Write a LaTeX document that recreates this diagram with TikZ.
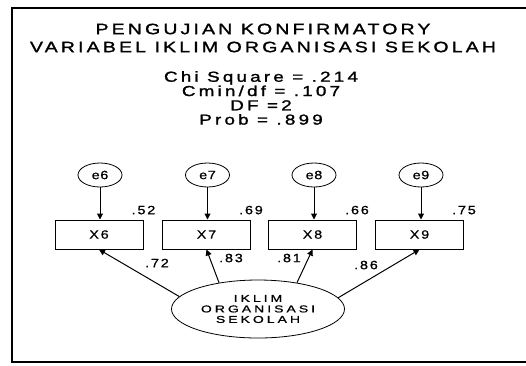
\documentclass[tikz,border=0pt]{standalone}
\usepackage{fontspec}
\setmainfont{Liberation Sans}
\usetikzlibrary{arrows.meta,shapes.geometric,positioning}

\begin{document}
\begin{tikzpicture}[x=1pt, y=-1pt,
        obs/.style={rectangle, draw, line width=1pt, minimum width=88pt, minimum height=29pt, inner sep=0pt,
                    font=\fontsize{12}{13}\selectfont\addfontfeatures{FakeStretch=1.2,LetterSpace=15,FakeBold=0.5}},
        err/.style={ellipse, draw, line width=0.8pt, minimum width=44pt, minimum height=24pt, inner sep=0pt,
                    font=\fontsize{12}{13}\selectfont\addfontfeatures{FakeStretch=1.2,LetterSpace=5,FakeBold=1}},
        lat/.style={ellipse, draw, line width=0.8pt, minimum width=173pt, minimum height=58pt, inner sep=0pt,
                    align=center, font=\fontsize{10}{10.5}\selectfont\addfontfeatures{FakeStretch=1.4,LetterSpace=30,FakeBold=1}},
        reg/.style={line width=1pt, -{Triangle[width=6pt,length=6pt]}},
        est/.style={inner sep=0pt, font=\fontsize{12}{13}\selectfont\addfontfeatures{FakeStretch=1.2,LetterSpace=15,FakeBold=1}}
    ]
    \useasboundingbox (0,0) rectangle (526,365);

    %% ---- frame and heading ----
    \draw[line width=1.5pt] (526,8) -| (12,362) -- (526,362);
    \node[align=center, font=\fontsize{15}{18}\selectfont\addfontfeatures{FakeStretch=1.3,LetterSpace=21,FakeBold=1.5}] (title) at (263,38)
          {PENGUJIAN KONFIRMATORY\\VARIABEL IKLIM ORGANISASI SEKOLAH};
    \node[align=center, font=\fontsize{14.5}{14.3}\selectfont\addfontfeatures{FakeStretch=1.3,LetterSpace=22,FakeBold=1.5}] (fit) at (261,98)
          {Chi Square = .214\\Cmin/df = .107\\DF =2\\Prob = .899};

    %% ---- indicators ----
    \node[obs] (x6) at (99,234.5)  {X6};
    \node[obs] (x7) at (206.5,234.5) {X7};
    \node[obs] (x8) at (312.5,234.5) {X8};
    \node[obs] (x9) at (419.5,234.5) {X9};

    %% ---- error terms ----
    \node[err] (e6) at (100,175) {e6};
    \node[err] (e7) at (207.5,175) {e7};
    \node[err] (e8) at (314,175) {e8};
    \node[err] (e9) at (421,175) {e9};
    \draw[reg] (e6) -- (e6 |- x6.north);
    \draw[reg] (e7) -- (e7 |- x7.north);
    \draw[reg] (e8) -- (e8 |- x8.north);
    \draw[reg] (e9) -- (e9 |- x9.north);

    % squared multiple correlations
    \node[est, above=5pt of x6.north east] {.52};
    \node[est, above=5pt of x7.north east] {.69};
    \node[est, above=5pt of x8.north east] {.66};
    \node[est, above=5pt of x9.north east] {.75};

    %% ---- latent factor ----
    \node[lat] (iklim) at (258,309) {IKLIM\\ORGANISASI\\SEKOLAH};
    \draw[reg] (iklim.171) -- (x6.south);
    \draw[reg] (iklim.146) -- (x7.south);
    \draw[reg] (iklim.34)  -- (x8.south);
    \draw[reg] (iklim.8)   -- (x9.south);

    % loadings
    \node[est] (l6) at (157,263) {.72};
    \node[est] (l7) at (231,258) {.83};
    \node[est] (l8) at (289,258) {.81};
    \node[est] (l9) at (366,265) {.86};

\end{tikzpicture}
\end{document}
